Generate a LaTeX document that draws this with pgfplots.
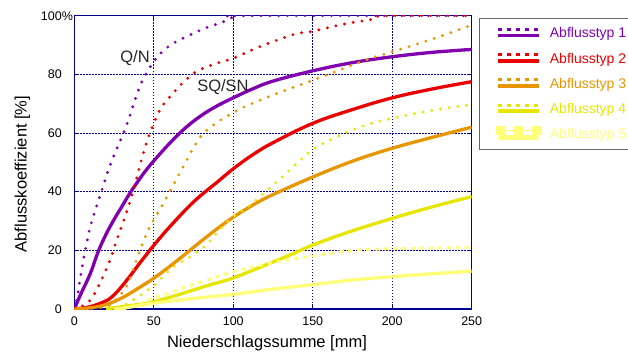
\documentclass[border=0pt]{standalone}
\usepackage{fontspec}
\setmainfont{Liberation Sans}
\usepackage{pgfplots}
\pgfplotsset{compat=1.18}
\definecolor{cA}{RGB}{128,0,176}
\definecolor{cB}{RGB}{235,0,0}
\definecolor{cC}{RGB}{232,150,0}
\definecolor{cD}{RGB}{230,230,0}
\definecolor{cE}{RGB}{255,255,120}
\definecolor{navy}{RGB}{0,0,150}
\pgfplotsset{
  solidc/.style={line width=3.3pt, smooth, tension=0.65},
  dotc/.style={line width=3.2pt, dash pattern=on 0pt off 8.8pt, line cap=round, smooth, tension=0.65, forget plot},
  leg/.style={legend image code/.code={
    \draw[#1, line width=3pt, dash pattern=on 4pt off 5pt] (0pt,4pt) -- (41pt,4pt);
    \draw[#1, line width=3.5pt] (0pt,-2pt) -- (41pt,-2pt);}},
}
\begin{document}
\begin{tikzpicture}
\begin{axis}[
  at={(74.3pt,45pt)}, anchor=south west,
  scale only axis, width=397.4pt, height=293.3pt,
  xmin=0, xmax=250, ymin=0, ymax=100,
  xtick={0,50,...,250}, ytick={0,20,...,100},
  yticklabels={0,20,40,60,80,{100\rlap{\%}}},
  tick align=inside, tick pos=both,
  major tick length=5pt,
  every tick/.style={navy, line width=1pt},
  axis line style={draw=navy, line width=1.2pt},
  grid=major,
  major grid style={navy, line width=0.9pt, dash pattern=on 1.5pt off 1.5pt},
  /pgf/number format/assume math mode=true,
  tick label style={font=\fontsize{12.5}{14}\selectfont},
  xticklabel style={yshift=-4pt},
  yticklabel style={xshift=-9pt},
  xlabel={Niederschlagssumme [mm]},
  ylabel={Abflusskoeffizient [\%]},
  label style={font=\fontsize{16.5}{19}\selectfont},
  xlabel style={at={(axis description cs:0.4849,-0.1320)}, anchor=base},
  ylabel style={at={(axis description cs:-0.1198,0.4601)}, anchor=base},
  legend style={at={(1,1)}, anchor=north west, xshift=7.3pt, yshift=-2.5pt,
    draw=black!60, line width=1.2pt, fill=white,
    font=\fontsize{14}{16}\selectfont, row sep=9.5pt,
    inner xsep=16.5pt, inner ysep=7pt,
    /tikz/every odd column/.append style={column sep=7.3pt}},
  legend cell align=left,
]
% Type 1
\addplot[cA, dotc] coordinates {(0,0)(1.5,3)(3.6,10)(5.7,16.7)(7.8,22.4)(10,28)(14,35)(17,40)(22.5,49)(27,55)(31,60)(35,66)(38,71)(41.3,76)(45,80)(50,84.5)(54,87)(62,90.5)(75,94)(85,96.3)(92,97.5)(100,99.5)(110,100)(250,100)};
\addplot[cA, solidc, leg=cA] coordinates {(0,0)(4,5)(10,12)(15,19.5)(20,25.5)(25,30.5)(30,35)(35,39.5)(40,43.5)(45,47.2)(50,50.5)(60,56.5)(70,61.8)(80,66)(90,69.3)(100,72)(112,75)(125,77.7)(150,81.2)(175,84)(200,86)(225,87.5)(250,88.5)};
\addlegendentry[text=cA]{Abflusstyp 1}
% Type 2
\addplot[cB, dotc] coordinates {(0,0)(5,1)(10,3)(14,6.5)(18,11)(22.5,16.7)(26.7,23.5)(31,30)(35,36.5)(39,44)(41.3,49)(44.5,55)(47.6,60)(54,68)(62,73.5)(70,78)(77,81)(88,83.5)(100,85.5)(117,89.5)(138,93.6)(150,94.7)(171,97.3)(188,98.8)(196,100)(250,100)};
\addplot[cB, solidc, leg=cB] coordinates {(0,0)(10,0.8)(20,2.8)(25,4.8)(30,7.8)(35,11.2)(40,14.8)(45,18.3)(50,21.7)(60,28)(75,36.5)(90,43.3)(100,47.8)(112,52.5)(125,56.7)(150,63.3)(175,68)(200,72)(225,75)(250,77.5)};
\addlegendentry[text=cB]{Abflusstyp 2}
% Type 3
\addplot[cC, dotc] coordinates {(0,0)(10,0.2)(20,0.8)(25,2.5)(30,5.5)(34,9)(38,15)(41.3,20)(46.5,27)(50,30.5)(56,36)(60,40)(66.5,46.5)(70,50)(75,55)(83,60.8)(100,67)(117,71.2)(135,75)(150,78)(167,81.5)(184,85)(200,87.7)(225,92)(250,96.8)};
\addplot[cC, solidc, leg=cC] coordinates {(0,0)(10,0.4)(20,1.5)(30,3.8)(40,7)(50,10.5)(60,14.5)(70,18.8)(80,23.2)(90,27.4)(100,31.3)(110,34.7)(123,38.5)(150,45)(175,50.4)(200,54.8)(225,58.5)(250,62)};
\addlegendentry[text=cC]{Abflusstyp 3}
% Type 4
\addplot[cD, dotc] coordinates {(28,0)(35,2.5)(40,4)(45,6)(50,8)(59,12.7)(64,15)(70.7,17)(76,19)(81,20.8)(86,23.5)(91.6,27)(100,31.5)(110,35.2)(119,39.4)(128,43.7)(136.7,48)(145.7,52.5)(150.4,54.6)(160.8,57.6)(172.4,60.4)(185,63)(200,65)(225,67.7)(250,69.7)};
\addplot[cD, solidc, leg=cD] coordinates {(20,0)(30,0.8)(40,1.5)(50,2.5)(62,4.3)(75,6.5)(87,8.5)(98,10.2)(110,12.7)(123,15.6)(137,18.7)(150,21.8)(173,26.3)(200,30.9)(225,34.8)(250,38.3)};
\addlegendentry[text=cD]{Abflusstyp 4}
% Type 5
\addplot[cE, line width=3pt, dash pattern=on 4pt off 5pt, smooth, tension=0.65, forget plot] coordinates {(30,0)(40,1.5)(50,3.8)(60,5.5)(70.7,7.6)(81,9.4)(90,11)(100,12.7)(110.5,14)(121,15.4)(131,16.5)(142,17.4)(150,18)(161,19)(172,19.8)(185,20.3)(200,20.6)(225,20.8)(250,21)};
\addplot[cE, solidc, legend image code/.code={
    \draw[cE, line width=1.5pt] (0pt,4pt) -- (41pt,4pt);
    \fill[cE] (0pt,1.5pt) rectangle (5pt,6.5pt);
    \fill[cE] (18pt,1.5pt) rectangle (23pt,6.5pt);
    \fill[cE] (36pt,1.5pt) rectangle (41pt,6.5pt);
    \draw[cE, line width=5pt, line cap=round] (2.5pt,-3pt) -- (38.5pt,-3pt);}]
  coordinates {(25,0)(30,0.2)(50,2)(75,3.6)(100,5)(125,6.8)(150,8.3)(175,9.9)(200,11)(225,12)(250,12.9)};
\addlegendentry[text=cE]{Abflusstyp 5}
\node[font=\fontsize{16.5}{19}\selectfont, text=black!85] at (axis cs:38.2,85.4) {Q/N};
\node[font=\fontsize{16.5}{19}\selectfont, text=black!85] at (axis cs:93.5,75.7) {SQ/SN};
\end{axis}
\pgfresetboundingbox
\path (0,0) rectangle (628pt,354pt);
\end{tikzpicture}
\end{document}
